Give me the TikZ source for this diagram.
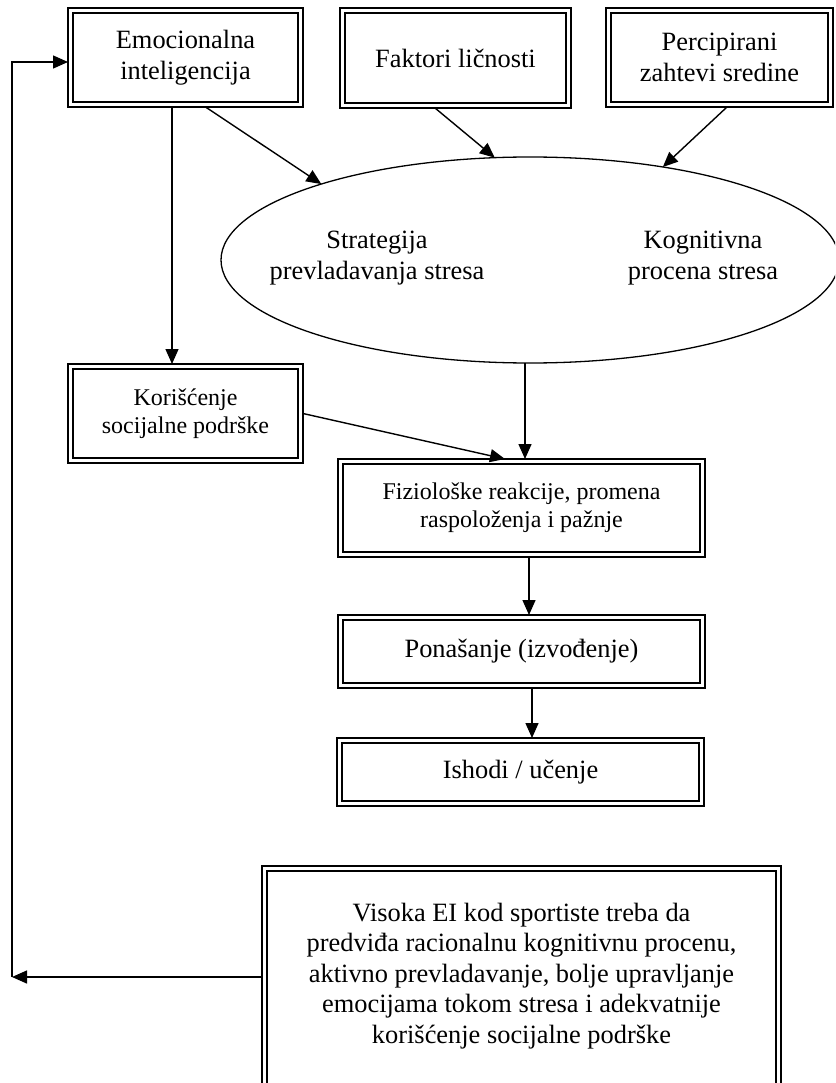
\documentclass[tikz,border=0pt]{standalone}
\usepackage{fontspec}
\setmainfont{Liberation Serif}
\usetikzlibrary{shapes.geometric,arrows.meta}
\newcommand\bigtxt{\fontsize{26.4}{30.5}\selectfont}
\newcommand\smalltxt{\fontsize{24}{28}\selectfont}
\tikzset{
  dbox/.style={draw, line width=2.4pt, outer sep=0pt, inner sep=0pt, align=center, font=\bigtxt},
  inbox/.style={line width=1.6pt},
  arr/.style={line width=1.4pt, -{Triangle[length=15pt,width=13pt]}},
  plainline/.style={line width=1.4pt},
  lbl/.style={align=center, font=\bigtxt, inner sep=0pt},
}
\begin{document}
\begin{tikzpicture}[x=1pt,y=-1pt]
\useasboundingbox (0,0) rectangle (835,1083);
\clip (0,0) rectangle (835,1083);
% boxes
\node[dbox, minimum width=235pt, minimum height=99pt] (ei) at (185.5,57.5) {Emocionalna\\inteligencija};
\node[dbox, minimum width=231pt, minimum height=100pt] (fl) at (455.5,58) {Faktori ličnosti};
\node[dbox, minimum width=227pt, minimum height=99pt] (pz) at (719.5,57.5) {Percipirani\\zahtevi sredine};
\node[draw, ellipse, line width=1.3pt, minimum width=618pt, minimum height=206pt, inner sep=0pt, outer sep=0pt] (el) at (530,260) {};
\node[lbl] (st) at (377,258) {Strategija\\prevladavanja stresa};
\node[lbl] (kp) at (703,258) {Kognitivna\\procena stresa};
\node[dbox, font=\smalltxt, minimum width=235pt, minimum height=99pt] (ks) at (185.5,413.5) {Korišćenje\\socijalne podrške};
\node[dbox, font=\smalltxt, minimum width=367pt, minimum height=98pt] (fz) at (521.5,508) {Fiziološke reakcije, promena\\raspoloženja i pažnje};
\node[dbox, minimum width=367pt, minimum height=73pt] (pn) at (521.5,651.5) {Ponašanje (izvođenje)};
\node[dbox, minimum width=367pt, minimum height=68pt] (ih) at (520.5,772) {Ishodi / učenje};
\node[dbox, minimum width=519pt, minimum height=254pt] (vb) at (521.5,993) {};
\node[lbl] (vt) at (521.5,976) {Visoka EI kod sportiste treba da\\predviđa racionalnu kognitivnu procenu,\\aktivno prevladavanje, bolje upravljanje\\emocijama tokom stresa i adekvatnije\\korišćenje socijalne podrške};
% inner lines of the double borders
\foreach \n in {ei,fl,pz,ks,fz,pn,ih,vb}
  \draw[inbox] ([shift={(5,5)}]\n.north west) rectangle ([shift={(-5,-5)}]\n.south east);
% connectors
\draw[arr] ([xshift=20pt]ei.south) -- (el.160);
\draw[arr] ([xshift=-20.5pt]fl.south) -- (el.109);
\draw[arr] ([xshift=7.5pt]pz.south) -- (el.35);
\draw[arr] ([xshift=-13.5pt]ei.south) -- ([xshift=-13.5pt]ks.north);
\draw[arr] (ks.east) -- ([xshift=-16.5pt]fz.north);
\draw[arr] ([xshift=-5pt]el.south) -- ([xshift=3.5pt]fz.north);
\draw[arr] ([xshift=7.5pt]fz.south) -- ([xshift=7.5pt]pn.north);
\draw[arr] ([xshift=10.5pt]pn.south) -- ([xshift=11.5pt]ih.north);
\coordinate (fbL) at (12,977);
\coordinate (fbT) at (12,62);
\draw[arr] (vb.west |- fbL) -- (fbL);
\draw[arr] (fbL) -- (fbT) -- (fbT -| ei.west);
\end{tikzpicture}
\end{document}
